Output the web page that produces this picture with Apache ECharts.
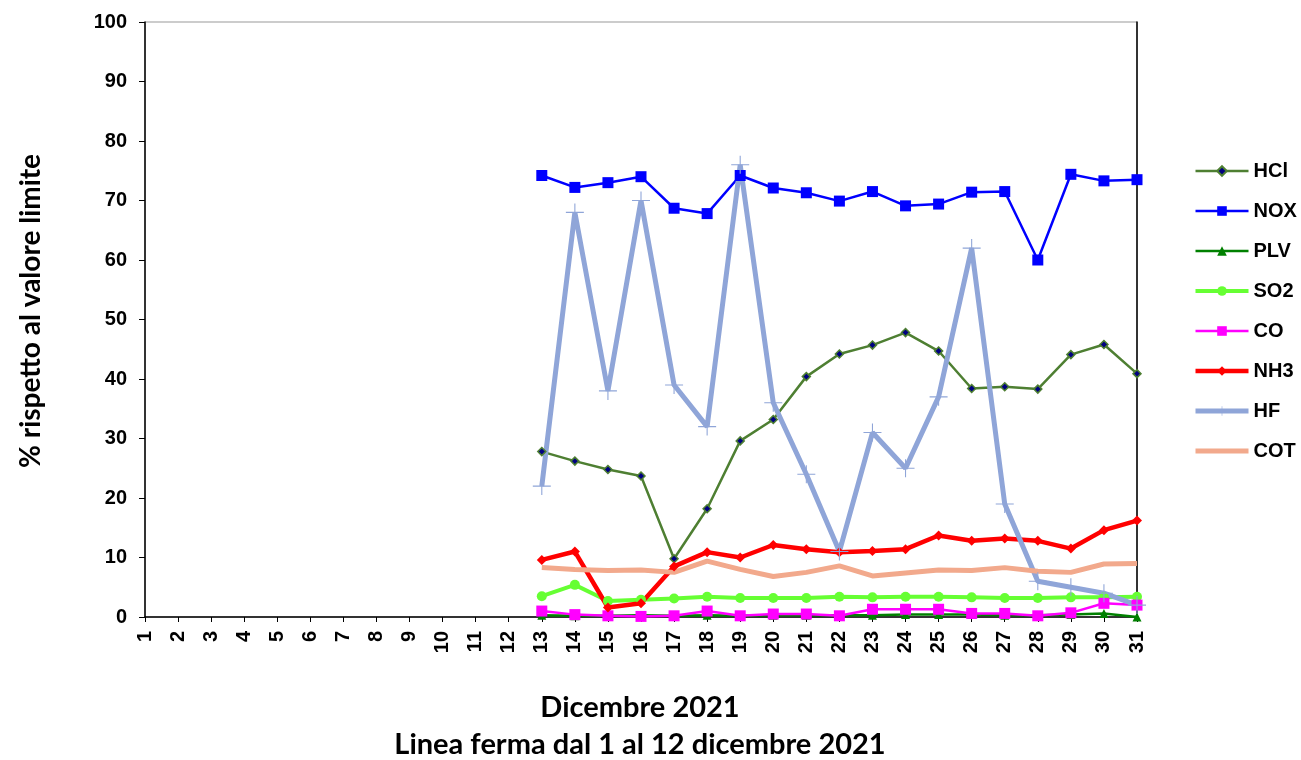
<!DOCTYPE html>
<html>
<head>
<meta charset="utf-8">
<script src="https://cdn.jsdelivr.net/npm/echarts@6/dist/echarts.min.js"></script>
<style>
html,body{margin:0;padding:0;background:#fff;}
#chart{width:1301px;height:760px;}
</style>
</head>
<body>
<div id="chart"></div>
<script>
const days = ['1','2','3','4','5','6','7','8','9','10','11','12','13','14','15','16','17','18','19','20','21','22','23','24','25','26','27','28','29','30','31'];
const yTicks = [0,10,20,30,40,50,60,70,80,90,100];
const off = [null,null,null,null,null,null,null,null,null,null,null,null];

const hcl = off.concat([27.8,26.2,24.8,23.7,9.8,18.2,29.6,33.2,40.4,44.2,45.7,47.8,44.7,38.4,38.7,38.3,44.1,45.8,40.9]);
const nox = off.concat([74.2,72.2,73.0,74.0,68.7,67.8,74.2,72.1,71.3,69.9,71.5,69.1,69.4,71.4,71.5,60.0,74.4,73.3,73.5]);
const plv = off.concat([0.3,0.2,0.2,0.3,0.2,0.3,0.2,0.3,0.3,0.3,0.3,0.4,0.4,0.4,0.3,0.3,0.4,0.6,0.0]);
const so2 = off.concat([3.5,5.4,2.7,2.9,3.1,3.4,3.2,3.2,3.2,3.4,3.3,3.4,3.4,3.3,3.2,3.2,3.3,3.3,3.4]);
const co  = off.concat([1.0,0.4,0.2,0.1,0.2,1.0,0.2,0.5,0.5,0.2,1.3,1.3,1.3,0.6,0.6,0.2,0.7,2.3,2.0]);
const nh3 = off.concat([9.6,11.0,1.6,2.3,8.5,10.9,10.0,12.1,11.4,10.9,11.1,11.4,13.7,12.8,13.2,12.8,11.5,14.6,16.2]);
const hf  = off.concat([22,68,38,70,39,32,76,36,24,11,31,25,37,62,19,6,5,4,2]);
const cot = off.concat([8.3,8.0,7.8,7.9,7.5,9.4,8.0,6.8,7.5,8.6,6.9,7.4,7.9,7.8,8.3,7.7,7.5,8.9,9.0]);

const plus = 'path://M9.4,0h1.2v20h-1.2z M0,9.4h20v1.2h-20z';

const chart = echarts.init(document.getElementById('chart'));
chart.setOption({
  animation: false,
  backgroundColor: '#fff',
  grid: {left: 145, right: 164, top: 22, bottom: 143, show: true, borderColor: '#999', borderWidth: 1},
  legend: {
    orient: 'vertical', left: 1188, top: 156,
    itemWidth: 53, itemHeight: 12, itemGap: 20,
    textStyle: {fontFamily: 'Liberation Sans, Arial', fontWeight: 'bold', fontSize: 20, color: '#000'},
    data: [
      {name:'HCl', lineStyle:{width:2.5}},
      {name:'NOX', lineStyle:{width:2.5}},
      {name:'PLV', lineStyle:{width:2.5}},
      {name:'SO2', lineStyle:{width:4}},
      {name:'CO', lineStyle:{width:2.5}},
      {name:'NH3', lineStyle:{width:4.5}},
      {name:'HF', lineStyle:{width:5}},
      {name:'COT', lineStyle:{width:5}, itemStyle:{opacity:0}}
    ]
  },
  xAxis: {
    type: 'category', data: days, boundaryGap: false,
    axisLine: {lineStyle: {color: '#000', width: 1.5}},
    axisTick: {show: true, length: 5, lineStyle: {color: '#000'}},
    axisLabel: {rotate: 90, fontFamily: 'Liberation Sans, Arial', fontWeight: 'bold', fontSize: 20, color: '#000', margin: 14, interval: 0}
  },
  yAxis: [{
    type: 'value', min: 0, max: 100, interval: 10,
    axisLine: {show: true, lineStyle: {color: '#000', width: 1.5}},
    axisTick: {show: true, length: 6, lineStyle: {color: '#000'}},
    splitLine: {show: false},
    axisLabel: {fontFamily: 'Liberation Sans, Arial', fontWeight: 'bold', fontSize: 20, color: '#000', margin: 18}
  },{
    type: 'value', min: 0, max: 100, interval: 10, position: 'right',
    axisLine: {show: true, lineStyle: {color: '#000', width: 1.5}},
    axisTick: {show: false}, axisLabel: {show: false}, splitLine: {show: false}
  }],
  graphic: [
    {type: 'text', x: 31, y: 311, rotation: Math.PI/2, style: {text: '% rispetto al valore limite', fontFamily: 'Lato, Open Sans', fontWeight: 'bold', fontSize: 28, fill: '#000', align: 'center', verticalAlign: 'middle'}},
    {type: 'text', x: 640, y: 708, style: {text: 'Dicembre 2021', fontFamily: 'Lato, Open Sans', fontWeight: 'bold', fontSize: 29, fill: '#000', align: 'center', verticalAlign: 'middle'}},
    {type: 'text', x: 640, y: 745, style: {text: 'Linea ferma dal 1 al 12 dicembre 2021', fontFamily: 'Lato, Open Sans', fontWeight: 'bold', fontSize: 29, fill: '#000', align: 'center', verticalAlign: 'middle'}}
  ],
  series: [
    {name: 'HCl', type: 'line', data: hcl, symbol: 'diamond', symbolSize: 8, lineStyle: {color: '#4E7F32', width: 2.5}, itemStyle: {color: '#000080', borderColor: '#4E7F32', borderWidth: 1.5}},
    {name: 'NOX', type: 'line', data: nox, symbol: 'rect', symbolSize: 11, lineStyle: {color: '#0000FF', width: 2.5}, itemStyle: {color: '#0000FF'}},
    {name: 'PLV', type: 'line', data: plv, symbol: 'triangle', symbolSize: 9, lineStyle: {color: '#008000', width: 2.5}, itemStyle: {color: '#008000'}},
    {name: 'SO2', type: 'line', data: so2, symbol: 'circle', symbolSize: 10, lineStyle: {color: '#66FF33', width: 4}, itemStyle: {color: '#66FF33'}},
    {name: 'CO', type: 'line', data: co, symbol: 'rect', symbolSize: 11, lineStyle: {color: '#FF00FF', width: 2.5}, itemStyle: {color: '#FF00FF'}},
    {name: 'NH3', type: 'line', data: nh3, symbol: 'diamond', symbolSize: 10, lineStyle: {color: '#FF0000', width: 4.5}, itemStyle: {color: '#FF0000'}},
    {name: 'HF', type: 'line', data: hf, symbol: plus, symbolSize: 18, lineStyle: {color: '#8FA5D8', width: 5}, itemStyle: {color: '#8FA5D8'}},
    {name: 'COT', type: 'line', data: cot, symbol: 'none', lineStyle: {color: '#F2A98C', width: 5}, itemStyle: {color: '#F2A98C'}}
  ]
});
</script>
</body>
</html>
